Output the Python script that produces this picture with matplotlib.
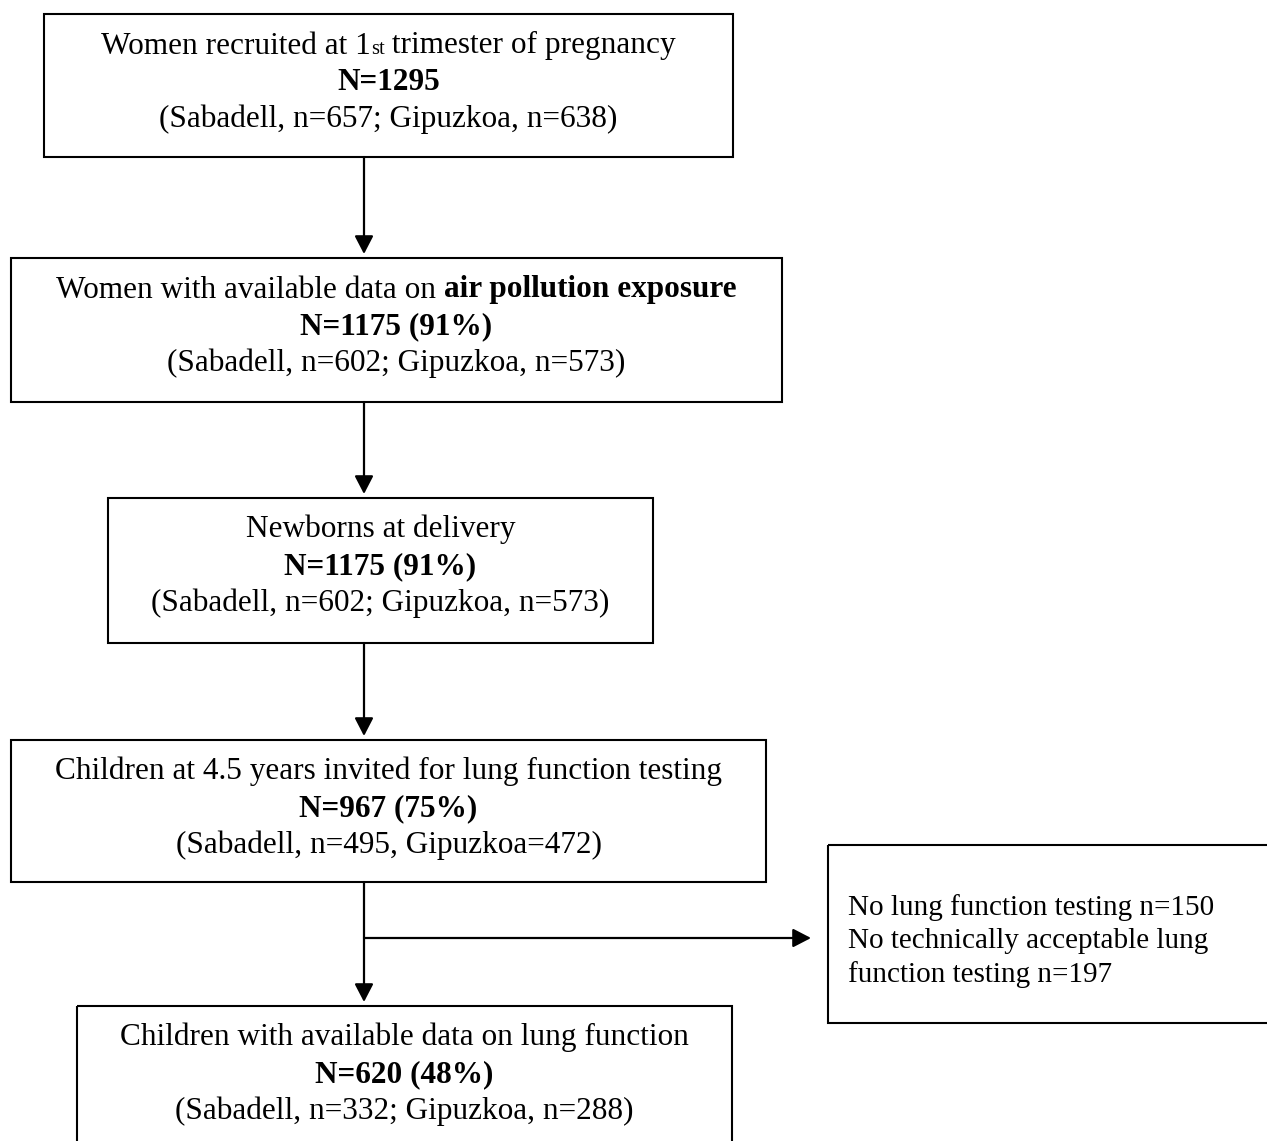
import matplotlib
matplotlib.use("Agg")
import matplotlib.pyplot as plt
from matplotlib.patches import Rectangle, FancyArrowPatch

# flow chart content
titles = [
    [("Women recruited at 1", "normal", 1.0, 0), ("st", "normal", 0.66, 1), (" trimester of pregnancy", "normal", 1.0, 0)],
    [("Women with available data on ", "normal", 1.0, 0), ("air pollution exposure", "bold", 1.0, 0)],
    [("Newborns at delivery", "normal", 1.0, 0)],
    [("Children at 4.5 years invited for lung function testing", "normal", 1.0, 0)],
    [("Children with available data on lung function", "normal", 1.0, 0)],
]
totals = ["N=1295", "N=1175 (91%)", "N=1175 (91%)", "N=967 (75%)", "N=620 (48%)"]
sites = [
    "(Sabadell, n=657; Gipuzkoa, n=638)",
    "(Sabadell, n=602; Gipuzkoa, n=573)",
    "(Sabadell, n=602; Gipuzkoa, n=573)",
    "(Sabadell, n=495, Gipuzkoa=472)",
    "(Sabadell, n=332; Gipuzkoa, n=288)",
]
excluded = ["No lung function testing n=150",
            "No technically acceptable lung",
            "function testing n=197"]

# layout in pixels (x0, y0, x1, y1)
boxes = [(44, 14, 733, 157), (11, 258, 782, 402), (108, 498, 653, 643),
         (11, 740, 766, 882), (77, 1006, 732, 1170)]
side_box = (828, 845, 1280, 1023)
xc_arrow = 364
y_branch = 938

FS = 22.5
FS_SIDE = 21
FONT = "Liberation Serif"
BASE = [39.5, 76.5, 113.5]

fig = plt.figure(figsize=(12.67, 11.41), dpi=100)
ax = fig.add_axes([0, 0, 1, 1])
ax.set_xlim(0, 1267)
ax.set_ylim(1141, 0)
ax.axis("off")
renderer = fig.canvas.get_renderer()


def rich_line(xc, y, parts, size=FS, left=None):
    texts = []
    total = 0
    for s, w, scale, dy in parts:
        t = ax.text(0, y + dy, s, fontsize=size * scale, fontweight=w, family=FONT,
                    ha="left", va="baseline")
        wd = t.get_window_extent(renderer).width
        texts.append((t, wd))
        total += wd
    x = xc - total / 2 if left is None else left
    for t, wd in texts:
        t.set_x(x)
        x += wd


for (x0, y0, x1, y1), title, tot, site in zip(boxes, titles, totals, sites):
    ax.add_patch(Rectangle((x0, y0), x1 - x0, y1 - y0, fill=False, lw=1.5, ec="black"))
    xc = (x0 + x1) / 2
    rich_line(xc, y0 + BASE[0], title)
    rich_line(xc, y0 + BASE[1], [(tot, "bold", 1.0, 0)])
    rich_line(xc, y0 + BASE[2], [(site, "normal", 1.0, 0)])

# exclusion box
x0, y0, x1, y1 = side_box
ax.add_patch(Rectangle((x0, y0), x1 - x0, y1 - y0, fill=False, lw=1.5, ec="black"))
for i, s in enumerate(excluded):
    rich_line(0, 915 + i * 33.5, [(s, "normal", 1.0, 0)], size=FS_SIDE, left=848)


def arrow(p, q):
    ax.add_patch(FancyArrowPatch(p, q, arrowstyle="-|>,head_length=1.1,head_width=0.57",
                                 mutation_scale=10, lw=1.6, color="black",
                                 shrinkA=0, shrinkB=0))


for a, b in zip(boxes[:-1], boxes[1:]):
    arrow((xc_arrow, a[3]), (xc_arrow, b[1] - 4))
arrow((xc_arrow, y_branch), (811, y_branch))

fig.savefig("out.png", dpi=100)
